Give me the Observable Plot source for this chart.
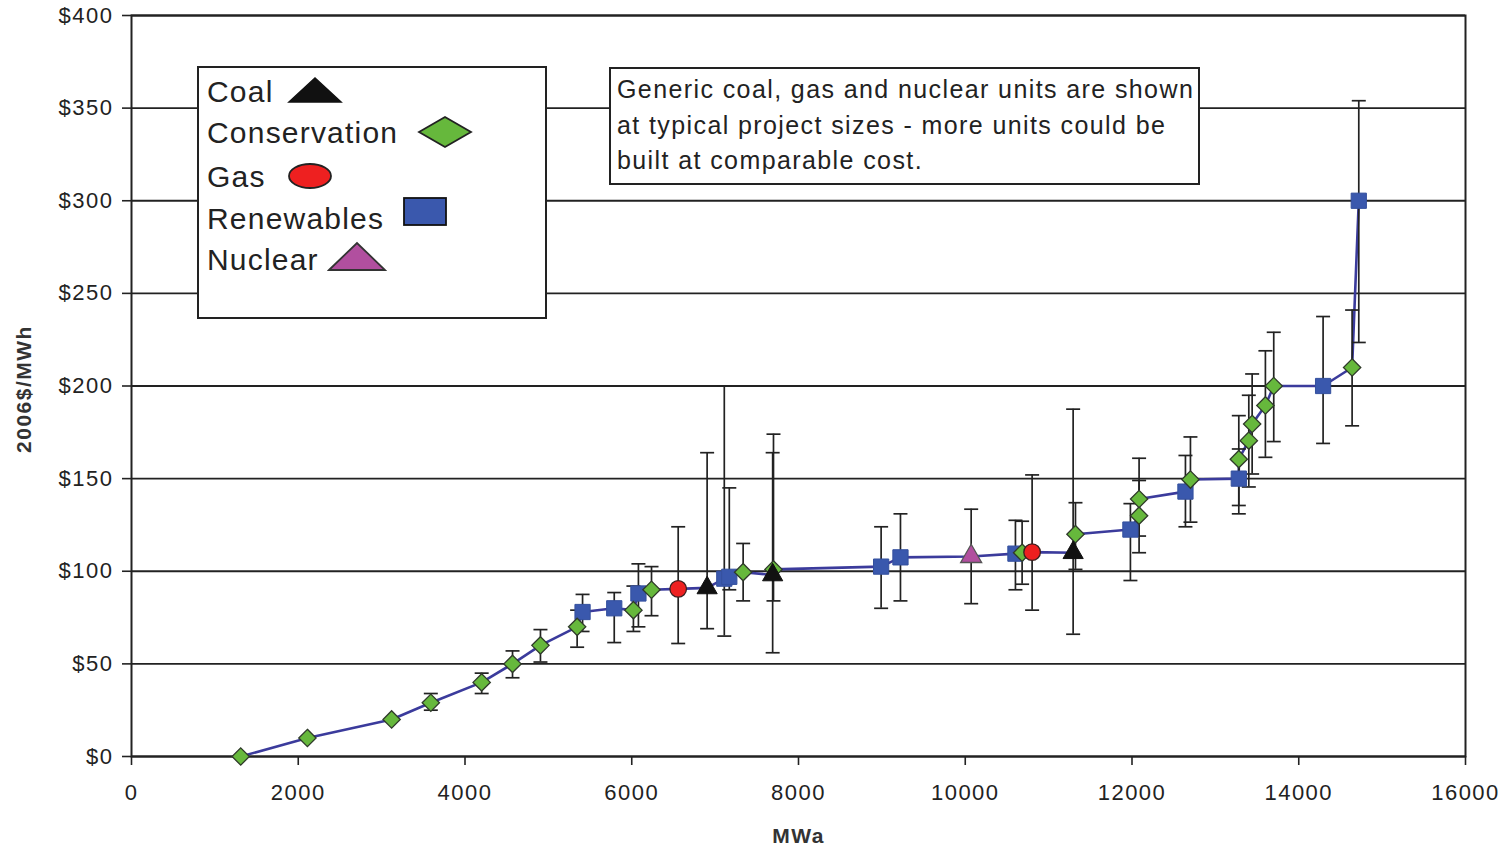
<!DOCTYPE html>
<html>
<head>
<meta charset="utf-8">
<script src="https://cdn.jsdelivr.net/npm/d3@7"></script>
<script src="https://cdn.jsdelivr.net/npm/@observablehq/plot@0.6"></script>
<style>
  html, body { margin: 0; padding: 0; background: #fff; }
  #wrap { position: relative; width: 1507px; height: 849px; font-family: "Liberation Sans", Arial, sans-serif; color: #222; }
  #legend { position: absolute; left: 197px; top: 66px; width: 346px; height: 249px; border: 2px solid #222; background: #fff; }
  #legend .row { position: absolute; left: 8px; font-size: 30px; letter-spacing: 1.2px; line-height: 30px; }
  #legend svg { position: absolute; }
  #note { position: absolute; left: 609px; top: 67px; width: 591px; height: 118px; border: 2px solid #222; background: #fff;
          font-size: 25px; letter-spacing: 1.4px; line-height: 35.5px; padding: 3px 0 0 6px; box-sizing: border-box; white-space: nowrap; }
</style>
</head>
<body>
<div id="wrap">
  <div id="chart"></div>
  <div id="legend"></div>
  <div id="note">Generic coal, gas and nuclear units are shown<br>at typical project sizes - more units could be<br>built at comparable cost.</div>
</div>
<script>
// ---- data ----
const types = [
  "Conservation","Conservation","Conservation","Conservation","Conservation","Conservation","Conservation","Conservation",
  "Renewables","Renewables","Conservation","Renewables","Conservation","Gas","Coal","Renewables","Renewables","Conservation",
  "Coal","Conservation","Renewables","Renewables","Nuclear","Renewables","Conservation","Gas","Coal","Conservation",
  "Renewables","Conservation","Conservation","Renewables","Conservation","Renewables","Conservation","Conservation",
  "Conservation","Conservation","Conservation","Renewables","Conservation","Renewables"
];
const mwa = [
  1310, 2110, 3120, 3590, 4200, 4570, 4905, 5345,
  5410, 5790, 6020, 6080, 6237, 6557, 6904, 7110, 7170, 7336,
  7690, 7700, 8991, 9223, 10071, 10602, 10682, 10802, 11294, 11322,
  11981, 12085, 12085, 12641, 12701, 13281, 13281, 13401,
  13441, 13600, 13700, 14292, 14640, 14720
];
const cost = [
  0, 10, 20, 29, 40, 50, 60, 70,
  78, 80, 79, 88, 90, 90.5, 91, 96, 97, 99.5,
  98, 101, 102.5, 107.5, 108, 109.5, 110, 110.3, 110, 120,
  122.5, 130, 139, 143, 149.5, 150, 160.5, 170.5,
  179.5, 189.5, 200, 200, 210, 300
];
const errLow = [
  null, null, null, 25, 34, 42.5, 51, 59,
  67.5, 61.5, 67.5, 70, 76, 61, 69, 65, 90, 84,
  56, 84, 80, 84, 82.5, 90, 93, 79, 66, 101,
  95, 110, 119, 124, 126.5, 131, 135.5, 145.5,
  152.5, 161.5, 170, 169, 178.5, 223.5
];
const errHigh = [
  null, null, null, 34, 45, 57, 68.5, 79,
  87.5, 88.5, 92, 104, 102.5, 124, 164, 200, 145, 115,
  164, 174, 124, 131, 133.5, 127.5, 127, 152, 187.5, 137,
  136.5, 149, 161, 162.5, 172.5, 166, 184, 195,
  206.5, 219, 229, 237.5, 241, 354
];
const yTicks = [0, 50, 100, 150, 200, 250, 300, 350, 400];
const xTicks = [0, 2000, 4000, 6000, 8000, 10000, 12000, 14000, 16000];
const legendNames = ["Coal", "Conservation", "Gas", "Renewables", "Nuclear"];

const rows = types.map((t, i) => ({type: t, mwa: mwa[i], cost: cost[i], lo: errLow[i], hi: errHigh[i]}));
const withErr = rows.filter(d => d.lo != null);

const cap = {draw(ctx) { ctx.moveTo(-7, 0); ctx.lineTo(7, 0); }};
const styles = {
  Coal:         {symbol: "triangle", r: 7.5, fill: "#111111", stroke: "#111111", strokeWidth: 1},
  Conservation: {symbol: "diamond2", r: 7.8, fill: "#66b83c", stroke: "#2f3a2a", strokeWidth: 1.3},
  Gas:          {symbol: "circle",   r: 8.3, fill: "#ee2020", stroke: "#3a2020", strokeWidth: 1.3},
  Renewables:   {symbol: "square",   r: 8.6, fill: "#3a58ad", stroke: "#34509e", strokeWidth: 1},
  Nuclear:      {symbol: "triangle", r: 7.8, fill: "#b14f9f", stroke: "#555555", strokeWidth: 1.3}
};
const order = ["Renewables", "Conservation", "Gas", "Nuclear", "Coal"];

const chart = Plot.plot({
  width: 1507,
  height: 849,
  marginLeft: 131,
  marginRight: 42,
  marginTop: 15,
  marginBottom: 93,
  style: {fontFamily: "'Liberation Sans', Arial, sans-serif", fontSize: "22px", color: "#222", background: "#fff", letterSpacing: "1.5px"},
  x: {domain: [0, 16000]},
  y: {domain: [0, 400]},
  marks: [
    Plot.gridY(yTicks, {stroke: "#222", strokeOpacity: 1, strokeWidth: 1.8}),
    Plot.frame({stroke: "#222", strokeWidth: 2}),
    Plot.axisY(yTicks, {tickSize: 9, tickPadding: 9, tickFormat: d => "$" + d, label: null, stroke: "#222", strokeWidth: 1.6}),
    Plot.axisX(xTicks, {tickSize: 9, tickPadding: 19, tickFormat: d => String(d), label: null, stroke: "#222", strokeWidth: 1.6}),
    Plot.text(["MWa"], {frameAnchor: "bottom", dy: 86, fontWeight: "bold", fontSize: 21, fill: "#333", letterSpacing: "2px"}),
    Plot.text(["2006$/MWh"], {frameAnchor: "left", textAnchor: "middle", dx: -107, dy: 3, rotate: -90, fontWeight: "bold", fontSize: 21, fill: "#333", letterSpacing: "1.8px"}),
    Plot.line(rows, {x: "mwa", y: "cost", stroke: "#3b3b9c", strokeWidth: 2.6}),
    Plot.ruleX(withErr, {x: "mwa", y1: "lo", y2: "hi", stroke: "#222", strokeWidth: 1.7}),
    Plot.dot(withErr, {x: "mwa", y: "lo", symbol: cap, stroke: "#222", strokeWidth: 1.7, fill: "none"}),
    Plot.dot(withErr, {x: "mwa", y: "hi", symbol: cap, stroke: "#222", strokeWidth: 1.7, fill: "none"}),
    ...order.map(t => Plot.dot(rows.filter(d => d.type === t), {x: "mwa", y: "cost", ...styles[t]}))
  ]
});
document.getElementById("chart").appendChild(chart);

// ---- legend (HTML overlay inside the plot area) ----
const legend = document.getElementById("legend");
const rowTops = [9, 50, 94, 136, 177];
const icons = {
  Coal: {left: 88, top: 8, w: 56, h: 28, svg: '<polygon points="2,26 28,2 54,26" fill="#111" stroke="#111" stroke-width="1.5"/>'},
  Conservation: {left: 218, top: 47, w: 56, h: 34, svg: '<polygon points="2,17 28,2 54,17 28,32" fill="#66b83c" stroke="#222" stroke-width="1.8"/>'},
  Gas: {left: 88, top: 94, w: 46, h: 28, svg: '<ellipse cx="23" cy="14" rx="21" ry="12" fill="#ee2020" stroke="#222" stroke-width="1.8"/>'},
  Renewables: {left: 203, top: 128, w: 46, h: 32, svg: '<rect x="2" y="2" width="42" height="27" fill="#3a58ad" stroke="#111" stroke-width="1.8"/>'},
  Nuclear: {left: 128, top: 173, w: 60, h: 32, svg: '<polygon points="2,29 30,2 58,29" fill="#b14f9f" stroke="#333" stroke-width="1.8"/>'}
};
legendNames.forEach((name, i) => {
  const r = document.createElement("div");
  r.className = "row";
  r.style.top = rowTops[i] + "px";
  r.textContent = name;
  legend.appendChild(r);
  const ic = icons[name];
  const s = document.createElementNS("http://www.w3.org/2000/svg", "svg");
  s.setAttribute("width", ic.w); s.setAttribute("height", ic.h);
  s.style.left = ic.left + "px"; s.style.top = ic.top + "px";
  s.innerHTML = ic.svg;
  legend.appendChild(s);
});
</script>
</body>
</html>
